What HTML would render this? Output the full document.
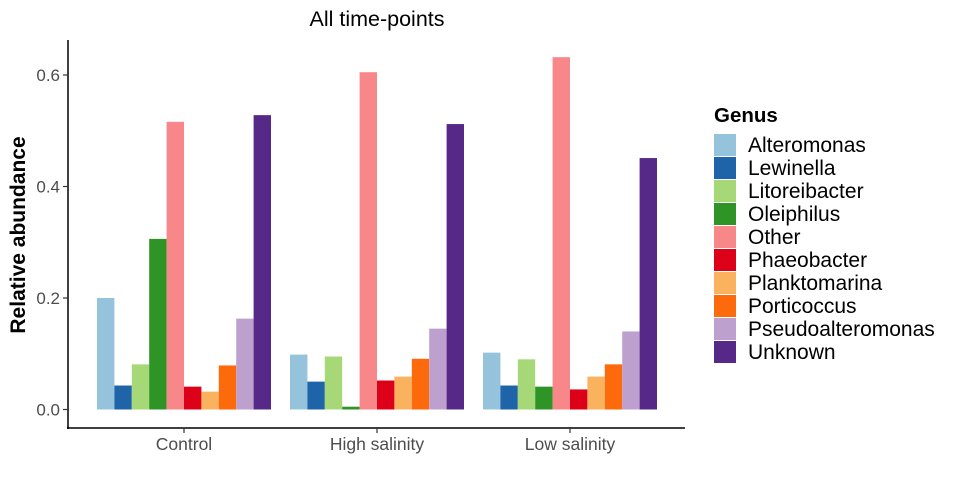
<!DOCTYPE html>
<html><head><meta charset="utf-8"><style>
body{margin:0;background:#fff;font-family:"Liberation Sans",Arial,sans-serif}
svg text{font-family:"Liberation Sans",Arial,sans-serif}
</style></head><body>
<svg id="c" width="956" height="487"></svg>
<script>
const groups=["Control","High salinity","Low salinity"];
const genera=["Alteromonas","Lewinella","Litoreibacter","Oleiphilus","Other","Phaeobacter","Planktomarina","Porticoccus","Pseudoalteromonas","Unknown"];
const colors=["#96c3dc","#1f63a8","#a6d878","#2d9425","#f8878a","#dc0019","#fab25f","#fc6a0b","#bda0ce","#562887"];
const controlVals=[0.200,0.043,0.081,0.306,0.516,0.041,0.032,0.079,0.163,0.528];
const highVals=[0.0985,0.050,0.095,0.005,0.605,0.052,0.059,0.091,0.145,0.512];
const lowVals=[0.102,0.043,0.090,0.041,0.632,0.036,0.059,0.081,0.140,0.451];
const yTicks=[0,0.2,0.4,0.6];
const yTickLabels=["0.0","0.2","0.4","0.6"];
const series=[controlVals,highVals,lowVals];
const NS="http://www.w3.org/2000/svg";
const svg=document.getElementById('c');
function el(t,a,txt){const e=document.createElementNS(NS,t);for(const k in a)e.setAttribute(k,a[k]);if(txt!=null)e.textContent=txt;svg.appendChild(e);return e;}
const y0=409.5,ppu=111.5/0.2;
const yS=v=>y0-v*ppu;
const gx=i=>184+i*193;
const bw=17.4;
groups.forEach((g,gi)=>{
  series[gi].forEach((v,k)=>{
    const r=el('rect',{x:gx(gi)-87+k*bw,y:yS(v),width:bw,height:v*ppu,fill:colors[k]});
    
    
  });
  const t=el('text',{x:gx(gi),y:450,'text-anchor':'middle','font-size':17.5,fill:'#4d4d4d'},g);
  
  
});
let a=el('line',{x1:68,y1:40,x2:68,y2:429,stroke:'#000','stroke-width':1.5});

a=el('line',{x1:67,y1:428,x2:685,y2:428,stroke:'#000','stroke-width':1.5});

yTicks.forEach((v,i)=>{
  el('line',{x1:63,y1:yS(v),x2:68,y2:yS(v),stroke:'#333','stroke-width':1.2});
  const t=el('text',{x:60,y:yS(v)+6,'text-anchor':'end','font-size':17,fill:'#4d4d4d'},yTickLabels[i]);
  
  
});
groups.forEach((g,gi)=>el('line',{x1:gx(gi),y1:428,x2:gx(gi),y2:433,stroke:'#333','stroke-width':1.2}));
let t=el('text',{x:377,y:26,'text-anchor':'middle','font-size':21.5,fill:'#000'},'All time-points');

t=el('text',{x:0,y:0,'text-anchor':'middle','font-size':21,'font-weight':'bold',transform:'translate(25,235) rotate(-90)'},'Relative abundance');

t=el('text',{x:714,y:122,'font-size':20.5,'font-weight':'bold'},'Genus');

genera.forEach((g,k)=>{
  const y=134+k*23;
  const r=el('rect',{x:714,y:y,width:22,height:22,fill:colors[k]});
  
  
  const tx=el('text',{x:748,y:y+18,'font-size':21},g);
  
  
});
</script>
</body></html>
